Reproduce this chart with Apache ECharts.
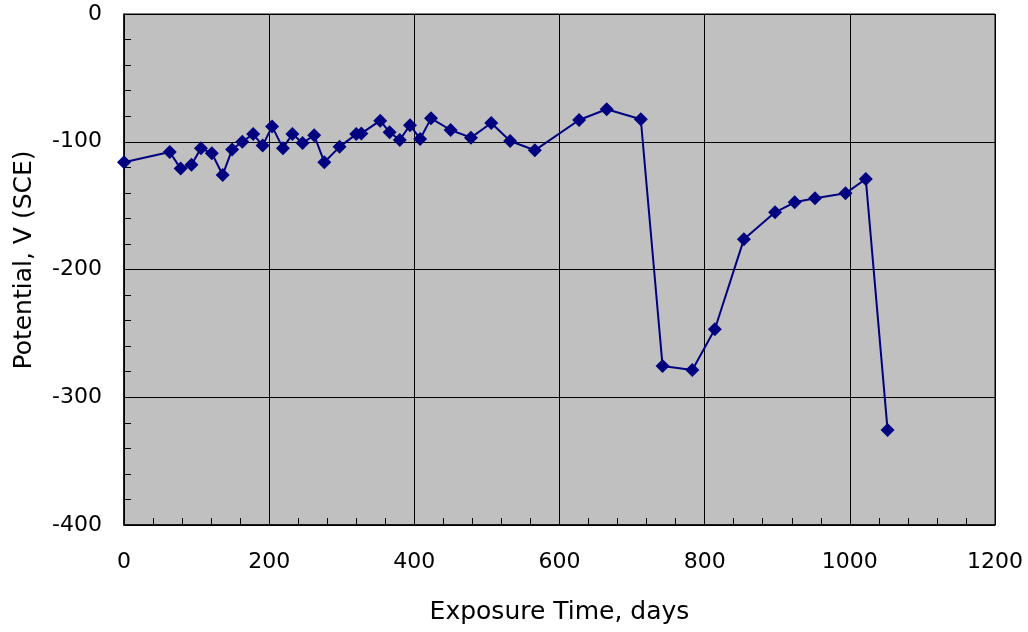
<!DOCTYPE html>
<html>
<head>
<meta charset="utf-8">
<script src="https://cdn.jsdelivr.net/npm/echarts@6/dist/echarts.min.js"></script>
<style>html,body{margin:0;padding:0;background:#fff;}#c{width:1028px;height:632px;}</style>
</head>
<body>
<div id="c"></div>
<script>
const days = [0, 63, 78, 93, 106, 121, 136, 149, 163, 178, 191, 204, 219, 232, 246, 262, 276, 297, 320, 327, 353, 366, 380, 394, 408, 423, 450, 478, 506, 532, 566, 627, 665, 712, 742, 783, 814, 854, 897, 924, 952, 994, 1022, 1052];
const potential = [-116, -108, -121, -118, -105, -109, -126, -106, -100, -94, -103, -88, -105, -94, -101, -95, -116, -104, -94, -93.5, -83.5, -92.6, -98.6, -87, -97.8, -81.7, -90.8, -96.8, -85.3, -99.4, -106.7, -83, -74.6, -82.4, -275.5, -278.7, -246.8, -176.4, -155.2, -147.4, -144.3, -140.4, -129.2, -325.6];
const xTitle = 'Exposure Time, days';
const yTitle = 'Potential, V (SCE)';

const chart = echarts.init(document.getElementById('c'), null, {renderer: 'canvas'});
const font = 'DejaVu Sans, Verdana, sans-serif';
const plain = v => String(v);
chart.setOption({
  animation: false,
  backgroundColor: '#ffffff',
  grid: {left: 124, right: 33, top: 14, bottom: 107, show: true, backgroundColor: '#c0c0c0', borderColor: '#000', borderWidth: 1},
  xAxis: {
    type: 'value', min: 0, max: 1200, interval: 200,
    name: xTitle, nameLocation: 'middle', nameGap: 75,
    nameTextStyle: {fontFamily: font, fontSize: 25, color: '#000'},
    axisLine: {onZero: false, lineStyle: {color: '#000', width: 1.5}},
    axisTick: {show: true, inside: true, length: 7, lineStyle: {color: '#000'}},
    minorTick: {show: true, splitNumber: 5, length: 7, lineStyle: {color: '#000'}},
    axisLabel: {fontFamily: font, fontSize: 22, color: '#000', margin: 26, formatter: plain},
    splitLine: {show: true, lineStyle: {color: '#000', width: 1}}
  },
  yAxis: {
    type: 'value', min: -400, max: 0, interval: 100,
    name: yTitle, nameLocation: 'middle', nameGap: 87,
    nameTextStyle: {fontFamily: font, fontSize: 25, color: '#000', padding: [0, 0, 0, 19]},
    axisLine: {onZero: false, lineStyle: {color: '#000', width: 1.5}},
    axisTick: {show: true, inside: true, length: 7, lineStyle: {color: '#000'}},
    minorTick: {show: true, splitNumber: 5, length: 7, lineStyle: {color: '#000'}},
    axisLabel: {fontFamily: font, fontSize: 22, color: '#000', margin: 22, formatter: plain, padding: [5, 0, 0, 0]},
    splitLine: {show: true, lineStyle: {color: '#000', width: 1}}
  },
  series: [{
    type: 'line',
    data: days.map((d, i) => [d, potential[i]]),
    symbol: 'diamond', symbolSize: 14,
    lineStyle: {color: '#000080', width: 2},
    itemStyle: {color: '#000080'},
    clip: false
  }]
});
</script>
</body>
</html>
